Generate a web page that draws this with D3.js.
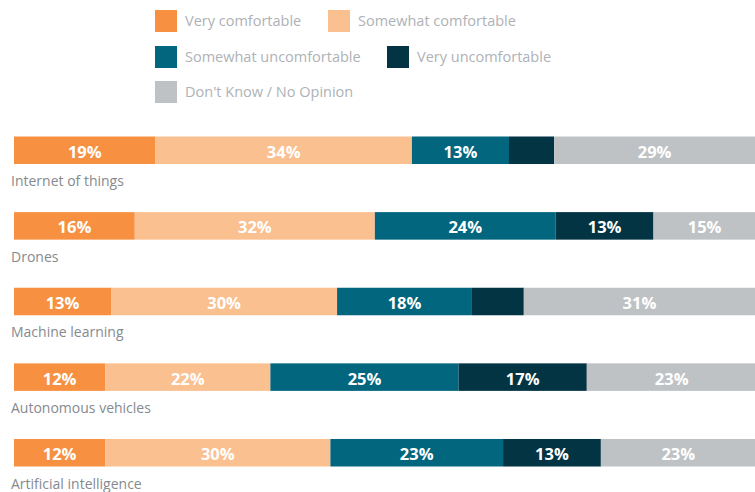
<!DOCTYPE html>
<html>
<head>
<meta charset="utf-8">
<script src="https://cdn.jsdelivr.net/npm/d3@7"></script>
<style>
  html, body { margin: 0; padding: 0; background: #fff; }
  svg { display: block; font-family: "Open Sans", "Noto Sans", sans-serif; }
</style>
</head>
<body>
<svg id="chart" width="755" height="492"></svg>
<script>
// categories, top to bottom
const categories = [
  "Internet of things",
  "Drones",
  "Machine learning",
  "Autonomous vehicles",
  "Artificial intelligence"
];

const seriesNames = [
  "Very comfortable",
  "Somewhat comfortable",
  "Somewhat uncomfortable",
  "Very uncomfortable",
  "Don't Know / No Opinion"
];

// segment shares as drawn (percent of bar length)
const veryComfortable = [19.1, 16.3, 13.1, 12.3, 12.3];
const somewhatComfortable = [34.6, 32.4, 30.5, 22.3, 30.4];
const somewhatUncomfortable = [13.1, 24.4, 18.2, 25.4, 23.3];
const veryUncomfortable = [6.1, 13.2, 7.0, 17.3, 13.2];
const dontKnow = [27.1, 13.8, 31.2, 22.9, 20.9];

// printed labels (null = no label shown)
const veryComfortableLabels = ["19%", "16%", "13%", "12%", "12%"];
const somewhatComfortableLabels = ["34%", "32%", "30%", "22%", "30%"];
const somewhatUncomfortableLabels = ["13%", "24%", "18%", "25%", "23%"];
const veryUncomfortableLabels = [null, "13%", null, "17%", "13%"];
const dontKnowLabels = ["29%", "15%", "31%", "23%", "23%"];

const seriesValues = [veryComfortable, somewhatComfortable, somewhatUncomfortable, veryUncomfortable, dontKnow];
const seriesLabels = [veryComfortableLabels, somewhatComfortableLabels, somewhatUncomfortableLabels, veryUncomfortableLabels, dontKnowLabels];

const colors = ["#f79141", "#fac090", "#02667f", "#033443", "#bfc2c5"];

const svg = d3.select("#chart");

const x = d3.scaleLinear().domain([0, 100]).range([14, 755]);
const y = d3.scaleBand().domain(categories).range([136.5, 466.5]).paddingInner(0.636).paddingOuter(0);
const color = d3.scaleOrdinal().domain(seriesNames).range(colors);

// build stack input
const rows = categories.map((c, i) => {
  const r = { category: c };
  seriesNames.forEach((s, j) => { r[s] = seriesValues[j][i]; });
  return r;
});
const stacked = d3.stack().keys(seriesNames)(rows);

const layers = svg.selectAll(".layer")
  .data(stacked)
  .enter()
  .append("g")
  .attr("class", "layer")
  .style("fill", d => color(d.key));

layers.selectAll("rect")
  .data(d => d)
  .enter()
  .append("rect")
  .attr("x", d => x(d[0]))
  .attr("y", d => y(d.data.category))
  .attr("width", d => x(d[1]) - x(d[0]))
  .attr("height", y.bandwidth());

// segment labels
stacked.forEach((layer, j) => {
  svg.append("g")
    .selectAll("text")
    .data(layer)
    .enter()
    .filter((d, i) => seriesLabels[j][i] !== null)
    .append("text")
    .attr("x", d => (x(d[0]) + x(d[1])) / 2)
    .attr("y", d => y(d.data.category) + y.bandwidth() / 2)
    .attr("dy", "0.45em")
    .attr("text-anchor", "middle")
    .style("fill", "#fff")
    .style("font-weight", "bold")
    .style("font-size", "16.5px")
    .text(d => seriesLabels[j][categories.indexOf(d.data.category)]);
});

// category labels under bars
svg.append("g")
  .selectAll("text")
  .data(categories)
  .enter()
  .append("text")
  .attr("x", 11)
  .attr("y", d => y(d) + y.bandwidth() + 22)
  .style("fill", "#868a8e")
  .style("font-size", "14px")
  .text(d => d);

// legend
const legendPos = [[155, 10], [328, 10], [155, 46], [387, 46], [155, 81]];
const legend = svg.selectAll(".legend")
  .data(seriesNames)
  .enter()
  .append("g")
  .attr("class", "legend")
  .attr("transform", (d, i) => `translate(${legendPos[i][0]},${legendPos[i][1]})`);

legend.append("rect")
  .attr("width", 22)
  .attr("height", 22)
  .style("fill", color);

legend.append("text")
  .attr("x", 30)
  .attr("y", 11)
  .attr("dy", "0.35em")
  .style("fill", "#aeb2b6")
  .style("font-size", "14.5px")
  .text(d => d);
</script>
</body>
</html>
